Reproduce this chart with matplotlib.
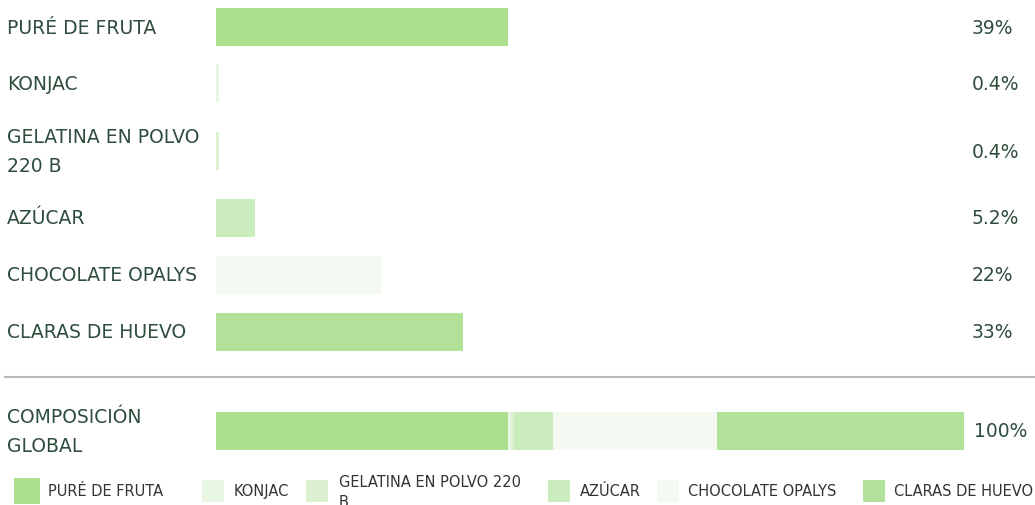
import matplotlib.pyplot as plt
from matplotlib.lines import Line2D
from matplotlib.patches import Rectangle

W, H = 1035, 506

ingredients = ["PURÉ DE FRUTA", "KONJAC", "GELATINA EN POLVO 220 B",
               "AZÚCAR", "CHOCOLATE OPALYS", "CLARAS DE HUEVO"]
row_labels = ["PURÉ DE FRUTA", "KONJAC", "GELATINA EN POLVO\n220 B",
              "AZÚCAR", "CHOCOLATE OPALYS", "CLARAS DE HUEVO"]
legend_labels = ["PURÉ DE FRUTA", "KONJAC", "GELATINA EN POLVO 220\nB",
                 "AZÚCAR", "CHOCOLATE OPALYS", "CLARAS DE HUEVO"]
percent = [39, 0.4, 0.4, 5.2, 22, 33]
percent_text = ["39%", "0.4%", "0.4%", "5.2%", "22%", "33%"]
colors = ["#abdf8e", "#eaf6e4", "#dbf0d0", "#caecbc", "#f4faf1", "#b2e299"]

# layout (pixels from top)
row_y = [28, 84, 152, 219, 276, 333]
global_y = 432
text_col = "#2f4d3c"


def fx(x):
    return x / W


def fy(y):
    return 1 - y / H


fig = plt.figure(figsize=(W / 100, H / 100), dpi=100)
ax = fig.add_axes([fx(216), 0, fx(748), 1])
ax.set_xlim(0, 100)
ax.set_ylim(H, 0)
ax.axis("off")

ax.barh(row_y, percent, height=37.5, color=colors, linewidth=0)

left = 0
for v, c in zip(percent, colors):
    ax.barh(global_y, v, left=left, height=38, color=c, linewidth=0)
    left += v

for y, lab, pt in zip(row_y, row_labels, percent_text):
    fig.text(fx(7), fy(y), lab, fontsize=13.5, color=text_col,
             va="center", ha="left", linespacing=1.68)
    fig.text(fx(972), fy(y), pt, fontsize=13.5, color=text_col,
             va="center", ha="left")

fig.text(fx(7), fy(global_y), "COMPOSICIÓN\nGLOBAL", fontsize=13.5,
         color=text_col, va="center", ha="left", linespacing=1.72)
fig.text(fx(974), fy(global_y), "%d%%" % round(sum(percent)), fontsize=13.5,
         color=text_col, va="center", ha="left")

fig.add_artist(Line2D([fx(5), fx(1035)], [fy(378), fy(378)],
                      color="#b8b8b8", lw=1.5))

# legend
sq_x = [14, 202, 306, 548, 657, 863]
txt_x = [48, 234, 339, 580, 688, 894]
for i, (lab, c) in enumerate(zip(legend_labels, colors)):
    s = 26 if i == 0 else 22
    fig.add_artist(Rectangle((fx(sq_x[i]), fy(492 + s / 2)), s / W, s / H,
                             facecolor=c, edgecolor="none",
                             transform=fig.transFigure))
    if "\n" in lab:
        fig.text(fx(txt_x[i]), fy(475), lab, fontsize=10.5, color="#333333",
                 va="top", ha="left", linespacing=1.45)
    else:
        fig.text(fx(txt_x[i]), fy(492), lab, fontsize=10.5, color="#333333",
                 va="center", ha="left")

fig.savefig("out.png", dpi=100)
